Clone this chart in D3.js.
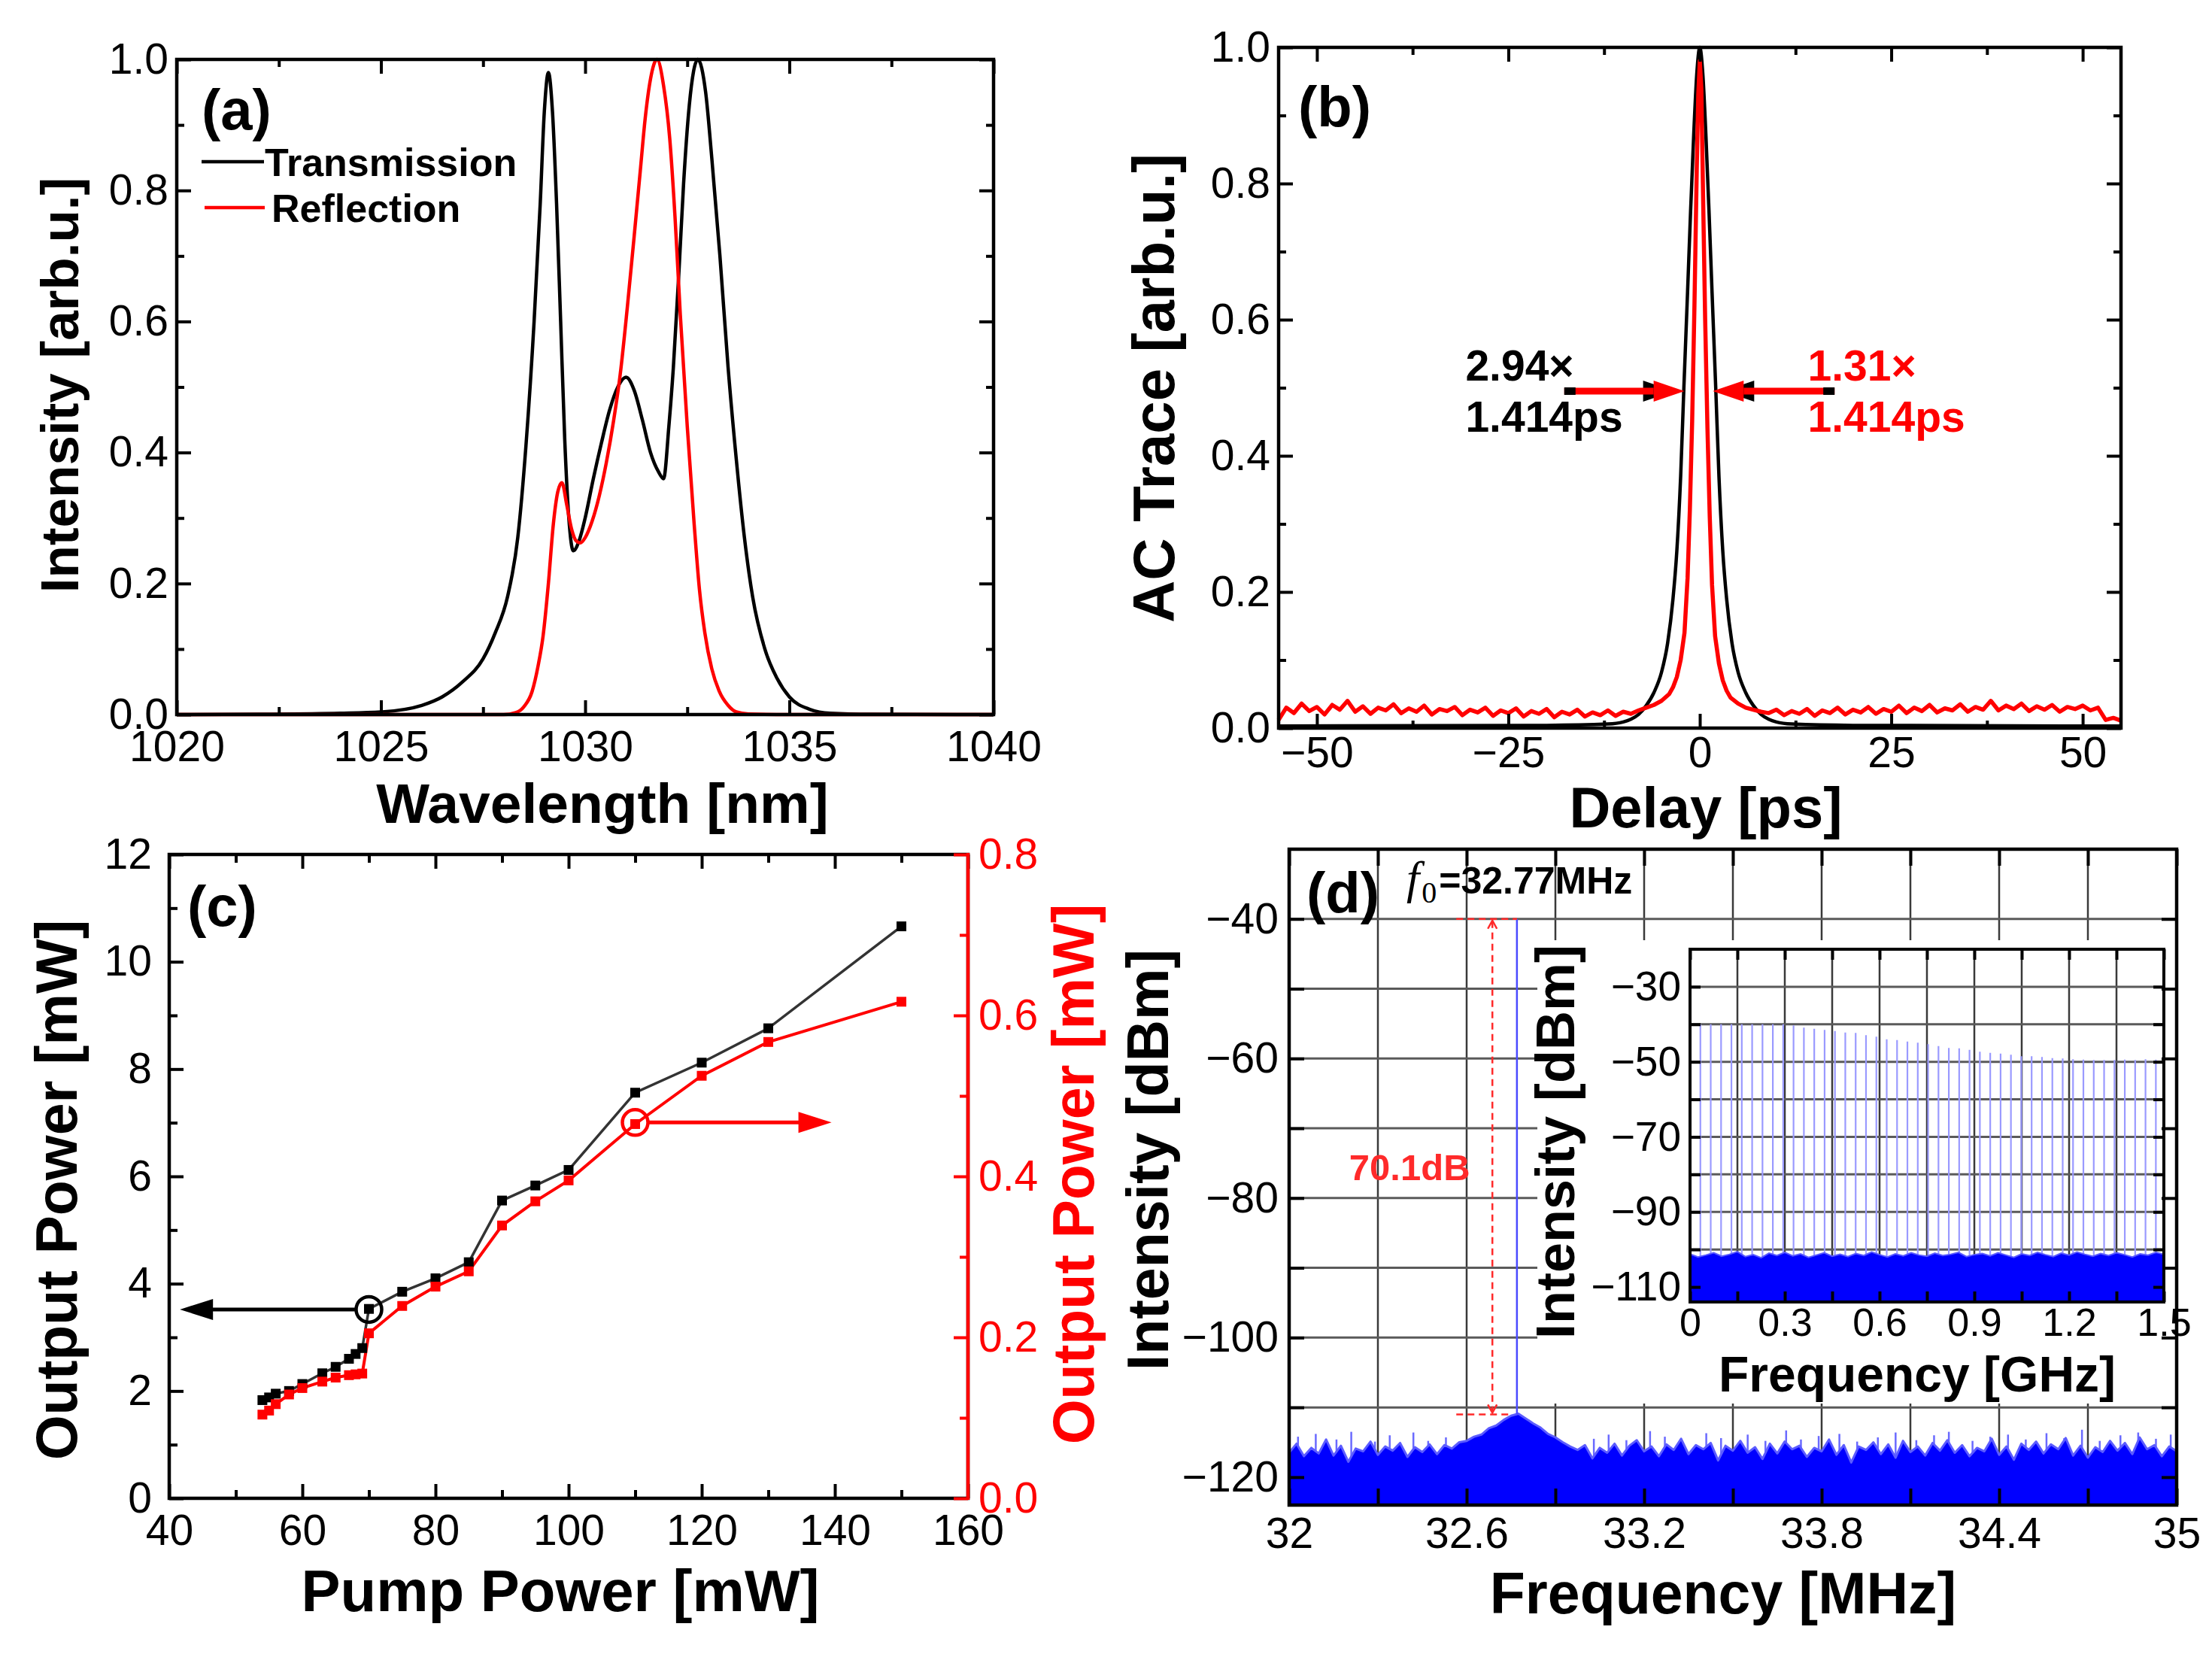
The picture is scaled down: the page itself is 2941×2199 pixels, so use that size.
<!DOCTYPE html>
<html>
<head>
<meta charset="utf-8">
<script src="https://cdn.jsdelivr.net/npm/d3@7"></script>
<style>
  html, body { margin: 0; background: #fff; }
</style>
</head>
<body>
<svg id="chart" width="2941" height="2199"></svg>
<script>
const FONT = '"Liberation Sans", Arial, Helvetica, sans-serif';
const SERIF = '"Liberation Serif", "Times New Roman", serif';

// ---- (a) transmission / reflection spectra
const wlTrans = [1020, 1022, 1024, 1025, 1026, 1026.5, 1027, 1027.5, 1027.8, 1028.1, 1028.35, 1028.55, 1028.75, 1028.9, 1029.0, 1029.1, 1029.2, 1029.3, 1029.4, 1029.5, 1029.6, 1029.71, 1029.85, 1030.0, 1030.2, 1030.4, 1030.6, 1030.8, 1031.0, 1031.2, 1031.4, 1031.6, 1031.8, 1031.92, 1032.05, 1032.16, 1032.3, 1032.41, 1032.55, 1032.76, 1032.95, 1033.1, 1033.3, 1033.5, 1033.7, 1033.9, 1034.1, 1034.4, 1034.7, 1035.0, 1035.5, 1036, 1037, 1040];
const intTrans = [0, 0.0005, 0.002, 0.004, 0.014, 0.027, 0.05, 0.085, 0.125, 0.18, 0.27, 0.41, 0.6, 0.78, 0.92, 0.98, 0.92, 0.78, 0.6, 0.42, 0.3, 0.25, 0.265, 0.3, 0.36, 0.415, 0.465, 0.5, 0.515, 0.495, 0.45, 0.4, 0.37, 0.36, 0.44, 0.53, 0.68, 0.81, 0.93, 1.0, 0.95, 0.85, 0.7, 0.53, 0.39, 0.27, 0.18, 0.1, 0.055, 0.027, 0.008, 0.002, 0.0005, 0];
const wlRefl = [1020, 1028, 1028.3, 1028.5, 1028.7, 1028.85, 1028.97, 1029.1, 1029.22, 1029.33, 1029.43, 1029.55, 1029.66, 1029.78, 1029.88, 1030.0, 1030.17, 1030.35, 1030.52, 1030.7, 1030.86, 1031.03, 1031.2, 1031.35, 1031.47, 1031.6, 1031.76, 1031.92, 1032.07, 1032.2, 1032.33, 1032.5, 1032.67, 1032.8, 1032.93, 1033.1, 1033.28, 1033.5, 1033.7, 1034, 1035, 1040];
const intRefl = [0, 0, 0.003, 0.012, 0.035, 0.075, 0.12, 0.2, 0.29, 0.34, 0.354, 0.32, 0.285, 0.265, 0.262, 0.27, 0.295, 0.335, 0.385, 0.45, 0.52, 0.62, 0.73, 0.83, 0.91, 0.97, 1.0, 0.96, 0.88, 0.76, 0.61, 0.44, 0.29, 0.19, 0.125, 0.07, 0.036, 0.014, 0.004, 0.001, 0, 0];

// ---- (b) autocorrelation traces
const delayBlack = [-55, -20, -12, -10, -9, -8, -7, -6, -5, -4.2, -3.5, -3, -2.5, -2.08, -1.6, -1.2, -0.8, -0.4, 0, 0.4, 0.8, 1.2, 1.6, 2.08, 2.5, 3, 3.5, 4.2, 5, 6, 7, 8, 9, 10, 12, 20, 55];
const acBlack = [0.003, 0.004, 0.006, 0.009, 0.013, 0.02, 0.033, 0.052, 0.082, 0.125, 0.19, 0.26, 0.37, 0.5, 0.64, 0.76, 0.87, 0.96, 1.0, 0.96, 0.87, 0.76, 0.64, 0.5, 0.37, 0.26, 0.19, 0.125, 0.082, 0.052, 0.033, 0.02, 0.013, 0.009, 0.006, 0.004, 0.003];
const delayRed = [-55, -54, -53, -52, -51, -50, -49, -48, -47, -46, -45, -44, -43, -42, -41, -40, -39, -38, -37, -36, -35, -34, -33, -32, -31, -30, -29, -28, -27, -26, -25, -24, -23, -22, -21, -20, -19, -18, -17, -16, -15, -14, -13, -12, -11, -10, -9,
  -8, -7, -6, -5, -4, -3.5, -3, -2.5, -2, -1.6, -1.3, -1, -0.7, -0.4, -0.2, 0, 0.2, 0.4, 0.7, 1, 1.3, 1.6, 2, 2.5, 3, 3.5, 4, 5, 6, 7, 8,
  9, 10, 11, 12, 13, 14, 15, 16, 17, 18, 19, 20, 21, 22, 23, 24, 25, 26, 27, 28, 29, 30, 31, 32, 33, 34, 35, 36, 37, 38, 39, 40, 41, 42, 43, 44, 45, 46, 47, 48, 49, 50, 51, 52, 53, 54, 55];
const acRed = [0.012, 0.03, 0.022, 0.036, 0.025, 0.031, 0.02, 0.034, 0.027, 0.04, 0.024, 0.032, 0.021, 0.03, 0.026, 0.035, 0.022, 0.029, 0.024, 0.033, 0.02, 0.028, 0.025, 0.031, 0.019, 0.027, 0.023, 0.03, 0.018, 0.026, 0.022, 0.029, 0.017, 0.025, 0.021, 0.028, 0.016, 0.024, 0.02, 0.027, 0.017, 0.023, 0.019, 0.026, 0.018, 0.024, 0.021,
  0.026, 0.03, 0.034, 0.04, 0.05, 0.06, 0.075, 0.1, 0.14, 0.22, 0.32, 0.45, 0.62, 0.82, 0.93, 0.98, 0.94, 0.8, 0.6, 0.44, 0.31, 0.21, 0.135, 0.095, 0.07, 0.055, 0.045, 0.036, 0.03, 0.027, 0.024,
  0.022, 0.027, 0.019, 0.025, 0.021, 0.028, 0.018, 0.026, 0.022, 0.03, 0.02, 0.027, 0.023, 0.031, 0.021, 0.028, 0.024, 0.033, 0.022, 0.03, 0.025, 0.034, 0.023, 0.029, 0.026, 0.035, 0.024, 0.031, 0.027, 0.04, 0.026, 0.033, 0.028, 0.036, 0.025, 0.032, 0.027, 0.034, 0.024, 0.031, 0.028, 0.033, 0.026, 0.03, 0.012, 0.015, 0.011];

// ---- (c) output power vs pump power
const pump = [54, 55, 56, 58, 60, 63, 65, 67, 68, 69, 70, 75, 80, 85, 90, 95, 100, 110, 120, 130, 150];
const powerBlack = [1.83, 1.88, 1.95, 2.0, 2.13, 2.33, 2.45, 2.6, 2.69, 2.8, 3.53, 3.85, 4.1, 4.4, 5.55, 5.83, 6.12, 7.56, 8.12, 8.76, 10.66];
const powerRed = [0.104, 0.109, 0.117, 0.129, 0.137, 0.145, 0.15, 0.153, 0.154, 0.155, 0.205, 0.239, 0.263, 0.282, 0.339, 0.369, 0.395, 0.465, 0.525, 0.567, 0.617];

// ---- (d) RF spectrum
const noiseFreq = d3.range(121).map(i => 32 + i * 0.025);
const noiseDbm = [-116.5, -115.2, -117.0, -115.8, -116.6, -114.6, -116.9, -115.5, -117.8, -115.9,
  -116.3, -114.9, -116.8, -115.6, -116.2, -115.1, -117.1, -115.7, -116.4, -115.3,
  -116.7, -115.4, -115.9, -115.0, -114.8, -114.2, -113.9, -113.0, -112.6, -111.8,
  -111.2, -110.9, -111.6, -112.3, -112.9, -113.8, -114.3, -115.0, -115.6, -116.1,
  -115.4, -117.3, -115.8, -116.5, -115.2, -116.9, -115.5, -114.7, -116.3, -115.6,
  -117.0, -115.3, -116.1, -114.5, -116.7, -115.4, -116.0, -115.1, -117.6, -115.5,
  -116.2, -114.8, -116.5, -115.7, -117.4, -115.2, -116.6, -114.9, -116.0, -115.5,
  -117.1, -115.8, -116.3, -114.6, -116.8, -115.4, -117.9, -115.6, -116.1, -115.0,
  -116.7, -115.3, -117.2, -114.8, -116.4, -115.6, -116.9, -115.1, -116.2, -114.7,
  -116.5, -115.4, -117.0, -115.8, -116.3, -114.5, -116.8, -115.6, -117.5, -115.2,
  -116.1, -114.9, -116.6, -115.3, -116.0, -114.4, -116.9, -115.5, -117.2, -115.7,
  -116.4, -114.8, -116.2, -115.1, -116.7, -114.3, -116.0, -115.4, -117.0, -115.6,
  -116.3];
// narrow noise spikes rising above the floor
const spikeFreq = [32.03, 32.09, 32.16, 32.21, 32.29, 32.34, 32.42, 32.47, 32.53, 33.03, 33.08, 33.14, 33.22, 33.27, 33.33, 33.41, 33.46, 33.55, 33.61, 33.68, 33.73, 33.79, 33.86, 33.92, 33.99, 34.05, 34.12, 34.18, 34.23, 34.31, 34.37, 34.43, 34.49, 34.56, 34.62, 34.68, 34.74, 34.81, 34.87, 34.93, 34.98];
const spikeDbm = [-114.2, -113.8, -114.6, -113.5, -114.9, -114.0, -113.6, -114.8, -114.3, -114.5, -113.9, -114.7, -113.4, -114.2, -115.0, -113.7, -114.4, -113.9, -114.8, -113.3, -114.6, -114.1, -113.8, -114.9, -114.3, -113.6, -114.7, -114.0, -113.5, -114.8, -114.2, -113.9, -114.6, -113.7, -114.4, -113.2, -114.8, -114.0, -113.6, -114.5, -113.9];
const f0MHz = 32.77;
const combPeakDbm = [-40, -40, -40, -40, -40, -40, -40, -40, -40, -40.3, -40.9, -41.2, -41.5, -41.8, -42.2, -42.3, -42.9, -43.3, -44.0, -44.2, -44.6, -44.9, -45.3, -45.8, -46.3, -46.4, -46.8, -47.3, -47.6, -47.8, -48.1, -48.5, -48.5, -48.7, -49.0, -49.1, -49.3, -49.4, -49.5, -49.5, -49.5, -49.4, -49.5, -49.3, -49.4];
const floorGHz = d3.range(61).map(i => i * 0.025);
const floorDbm = [-101.2, -102.0, -101.5, -100.9, -101.8, -101.3, -100.6, -101.9, -101.4, -102.2,
  -101.0, -101.6, -100.8, -101.7, -101.2, -102.1, -101.5, -100.9, -101.8, -101.3,
  -101.9, -101.1, -101.6, -100.7, -101.4, -102.0, -101.2, -101.7, -100.9, -101.5,
  -101.8, -101.0, -101.6, -101.3, -100.8, -101.9, -101.4, -101.1, -101.7, -100.9,
  -101.5, -102.1, -101.2, -101.6, -100.8, -101.4, -101.9, -101.0, -101.5, -100.7,
  -101.3, -101.8, -101.1, -101.6, -100.9, -101.4, -102.0, -101.2, -101.5, -100.8, -101.3];

const svg = d3.select("#chart");
svg.append("rect").attr("width", 2941).attr("height", 2199).attr("fill", "#fff");

// inward ticks, d3 axis with negative inner size
function addTicks(g, orient, scale, values, len, pos, color, fmt, pad, size) {
  const gen = { bottom: d3.axisBottom, top: d3.axisTop, left: d3.axisLeft, right: d3.axisRight }[orient];
  const ax = gen(scale).tickValues(values).tickSizeInner(-len).tickSizeOuter(0)
    .tickPadding(pad || 0).tickFormat(fmt || "");
  const t = (orient === "bottom" || orient === "top") ? `translate(0,${pos})` : `translate(${pos},0)`;
  const a = g.append("g").attr("transform", t).call(ax);
  a.select(".domain").remove();
  a.selectAll(".tick line").attr("stroke", color).attr("stroke-width", 4);
  a.selectAll(".tick text").attr("fill", color)
    .style("font-family", FONT).style("font-size", (size || 57) + "px");
  return a;
}

function boxAxes(g, x, y, o) {
  const [xl, xr] = x.range(), [yb, yt] = y.range();
  const c = "#000";
  addTicks(g, "bottom", x, o.xMajor, o.major, yb, c, o.xFmt, o.xPad);
  addTicks(g, "top", x, o.xMajor, o.major, yt, c);
  if (o.xMinor) {
    addTicks(g, "bottom", x, o.xMinor, o.minor, yb, c);
    addTicks(g, "top", x, o.xMinor, o.minor, yt, c);
  }
  addTicks(g, "left", y, o.yMajor, o.major, xl, c, o.yFmt, o.yPad);
  if (o.yMinor) addTicks(g, "left", y, o.yMinor, o.minor, xl, c);
  if (o.mirrorY !== false) {
    addTicks(g, "right", y, o.yMajor, o.major, xr, c);
    if (o.yMinor) addTicks(g, "right", y, o.yMinor, o.minor, xr, c);
  }
  g.append("rect").attr("x", xl).attr("y", yt).attr("width", xr - xl).attr("height", yb - yt)
    .attr("fill", "none").attr("stroke", c).attr("stroke-width", 4.5);
}

function text(g, str, x, y, size, o) {
  o = o || {};
  return g.append("text").attr("x", x).attr("y", y).text(str)
    .attr("fill", o.color || "#000").attr("text-anchor", o.anchor || "start")
    .style("font-family", FONT).style("font-size", size + "px")
    .style("font-weight", o.bold === false ? "normal" : "bold");
}

function yTitle(g, str, bx, cy, size, color) {
  g.append("text").attr("transform", `translate(${bx},${cy}) rotate(-90)`)
    .attr("text-anchor", "middle").attr("fill", color || "#000").text(str)
    .style("font-family", FONT).style("font-size", size + "px").style("font-weight", "bold");
}

const fmt1 = d3.format(".1f");
const fmtD = d3.format("d");

// ================= (a) =================
const gA = svg.append("g");
const xA = d3.scaleLinear().domain([1020, 1040]).range([235, 1321]);
const yA = d3.scaleLinear().domain([0, 1]).range([950, 79]);
const lineA = (xs, ys) => d3.line().x((d, i) => xA(xs[i])).y(d => yA(d)).curve(d3.curveMonotoneX)(ys);
gA.append("path").attr("d", lineA(wlTrans, intTrans))
  .attr("fill", "none").attr("stroke", "#000").attr("stroke-width", 4.5).attr("stroke-linejoin", "round");
gA.append("path").attr("d", lineA(wlRefl, intRefl))
  .attr("fill", "none").attr("stroke", "#ff0000").attr("stroke-width", 4.5).attr("stroke-linejoin", "round");
boxAxes(gA, xA, yA, {
  xMajor: [1020, 1025, 1030, 1035, 1040], xMinor: [1022.5, 1027.5, 1032.5, 1037.5],
  yMajor: [0, 0.2, 0.4, 0.6, 0.8, 1.0], yMinor: [0.1, 0.3, 0.5, 0.7, 0.9],
  major: 19, minor: 10, xFmt: fmtD, yFmt: fmt1, xPad: 22, yPad: 11
});
text(gA, "(a)", 268, 172, 76);
gA.append("line").attr("x1", 268).attr("x2", 351).attr("y1", 215).attr("y2", 215).attr("stroke", "#000").attr("stroke-width", 4.5);
text(gA, "Transmission", 352, 234, 52);
gA.append("line").attr("x1", 272).attr("x2", 352).attr("y1", 276).attr("y2", 276).attr("stroke", "#ff0000").attr("stroke-width", 4.5);
text(gA, "Reflection", 361, 295, 52);
text(gA, "Wavelength [nm]", 801, 1094, 75, { anchor: "middle" });
yTitle(gA, "Intensity [arb.u.]", 104, 512, 71);

// ================= (b) =================
const gB = svg.append("g");
const xB = d3.scaleLinear().domain([-55, 55]).range([1700, 2820]);
const yB = d3.scaleLinear().domain([0, 1]).range([968, 63]);
gB.append("path")
  .attr("d", d3.line().x((d, i) => xB(delayBlack[i])).y(d => yB(d)).curve(d3.curveMonotoneX)(acBlack))
  .attr("fill", "none").attr("stroke", "#000").attr("stroke-width", 4.5);
gB.append("path")
  .attr("d", d3.line().x((d, i) => xB(delayRed[i])).y(d => yB(d))(acRed))
  .attr("fill", "none").attr("stroke", "#ff0000").attr("stroke-width", 5.5).attr("stroke-linejoin", "round");
boxAxes(gB, xB, yB, {
  xMajor: [-50, -25, 0, 25, 50], xMinor: [-37.5, -12.5, 12.5, 37.5],
  yMajor: [0, 0.2, 0.4, 0.6, 0.8, 1.0], yMinor: [0.1, 0.3, 0.5, 0.7, 0.9],
  major: 19, minor: 10, xFmt: fmtD, yFmt: fmt1, xPad: 12, yPad: 11
});
// FWHM arrows
const arrY = yB(0.495);
function bArrow(from, tip, dir) {
  // black shadow head, red shaft, red head
  const hb = xB(tip) - dir * 41, sh = xB(tip) - dir * 14;
  gB.append("path").attr("d", `M${sh},${arrY} L${hb - dir * 14},${arrY - 14} L${hb - dir * 14},${arrY + 14} Z`).attr("fill", "#000");
  gB.append("line").attr("x1", xB(from)).attr("x2", hb).attr("y1", arrY).attr("y2", arrY)
    .attr("stroke", "#ff0000").attr("stroke-width", 9);
  gB.append("path").attr("d", `M${xB(tip)},${arrY} L${hb},${arrY - 14} L${hb},${arrY + 14} Z`).attr("fill", "#ff0000");
  gB.append("rect").attr("x", dir > 0 ? xB(from) : xB(from) - 15).attr("y", arrY - 5)
    .attr("width", 15).attr("height", 10).attr("fill", "#000");
}
bArrow(-17.7, -2.0, 1);
bArrow(17.6, 1.7, -1);
text(gB, "2.94×", xB(-30.6), 506, 57);
text(gB, "1.414ps", xB(-30.6), 574, 57);
text(gB, "1.31×", xB(14.1), 506, 57, { color: "#ff0000" });
text(gB, "1.414ps", xB(14.1), 574, 57, { color: "#ff0000" });
text(gB, "(b)", 1726, 168, 76);
text(gB, "Delay [ps]", 2268, 1100, 76, { anchor: "middle" });
yTitle(gB, "AC Trace [arb.u.]", 1561, 516, 78);

// ================= (c) =================
const gC = svg.append("g");
const xC = d3.scaleLinear().domain([40, 160]).range([225, 1287]);
const yCL = d3.scaleLinear().domain([0, 12]).range([1992, 1136]);
const yCR = d3.scaleLinear().domain([0, 0.8]).range([1992, 1136]);
gC.append("path").attr("d", d3.line().x((d, i) => xC(pump[i])).y(d => yCL(d))(powerBlack))
  .attr("fill", "none").attr("stroke", "#333").attr("stroke-width", 3.5);
gC.append("path").attr("d", d3.line().x((d, i) => xC(pump[i])).y(d => yCR(d))(powerRed))
  .attr("fill", "none").attr("stroke", "#ff0000").attr("stroke-width", 4);
gC.selectAll(".mb").data(powerBlack).enter().append("rect")
  .attr("x", (d, i) => xC(pump[i]) - 6.5).attr("y", d => yCL(d) - 6.5)
  .attr("width", 13).attr("height", 13).attr("fill", "#000");
gC.selectAll(".mr").data(powerRed).enter().append("rect")
  .attr("x", (d, i) => xC(pump[i]) - 6.5).attr("y", d => yCR(d) - 6.5)
  .attr("width", 13).attr("height", 13).attr("fill", "#ff0000");
boxAxes(gC, xC, yCL, {
  xMajor: [40, 60, 80, 100, 120, 140, 160], xMinor: [50, 70, 90, 110, 130, 150],
  yMajor: [0, 2, 4, 6, 8, 10, 12], yMinor: [1, 3, 5, 7, 9, 11],
  major: 19, minor: 11, xFmt: fmtD, yFmt: fmtD, xPad: 22, yPad: 23, mirrorY: false
});
addTicks(gC, "right", yCR, [0, 0.2, 0.4, 0.6, 0.8], 19, 1287, "#ff0000", fmt1, 14);
addTicks(gC, "right", yCR, [0.1, 0.3, 0.5, 0.7], 11, 1287, "#ff0000");
gC.append("line").attr("x1", 1287).attr("x2", 1287).attr("y1", 1136 - 2).attr("y2", 1992 + 2)
  .attr("stroke", "#ff0000").attr("stroke-width", 4.5);
// axis pointers
function cPointer(cx, cy, tipX, color) {
  const r = 17, dir = tipX < cx ? -1 : 1;
  gC.append("circle").attr("cx", cx).attr("cy", cy).attr("r", r)
    .attr("fill", "none").attr("stroke", color).attr("stroke-width", 4.5);
  gC.append("line").attr("x1", cx + dir * r).attr("x2", tipX - dir * 40).attr("y1", cy).attr("y2", cy)
    .attr("stroke", color).attr("stroke-width", 5);
  gC.append("path").attr("d", `M${tipX},${cy} L${tipX - dir * 44},${cy - 14} L${tipX - dir * 44},${cy + 14} Z`)
    .attr("fill", color);
}
cPointer(xC(70), yCL(3.52), xC(41.6), "#000");
cPointer(xC(110), yCR(0.467), xC(139.5), "#ff0000");
text(gC, "(c)", 249, 1231, 76);
text(gC, "Pump Power [mW]", 745, 2142, 78, { anchor: "middle" });
yTitle(gC, "Output Power [mW]", 102, 1582, 77);
yTitle(gC, "Output Power [mW]", 1454, 1561, 77, "#ff0000");

// ================= (d) =================
const gD = svg.append("g");
const xD = d3.scaleLinear().domain([32, 35]).range([1714, 2894]);
const yD = d3.scaleLinear().domain([-124, -30]).range([2001, 1129]);
const dGridX = [32.3, 32.6, 32.9, 33.2, 33.5, 33.8, 34.1, 34.4, 34.7];
const dGridY = [-120, -110, -100, -90, -80, -70, -60, -50, -40];
gD.selectAll(".gx").data(dGridX).enter().append("line")
  .attr("x1", d => xD(d)).attr("x2", d => xD(d)).attr("y1", 1129).attr("y2", 2001)
  .attr("stroke", "#3a3a3a").attr("stroke-width", 2.5);
gD.selectAll(".gy").data(dGridY).enter().append("line")
  .attr("x1", 1714).attr("x2", 2894).attr("y1", d => yD(d)).attr("y2", d => yD(d))
  .attr("stroke", "#5a5a5a").attr("stroke-width", 3);
gD.selectAll(".spike").data(spikeDbm).enter().append("line")
  .attr("x1", (d, i) => xD(spikeFreq[i])).attr("x2", (d, i) => xD(spikeFreq[i]))
  .attr("y1", yD(-118)).attr("y2", d => yD(d))
  .attr("stroke", "#6a6aff").attr("stroke-width", 2.5);
gD.append("path")
  .attr("d", d3.area().x((d, i) => xD(noiseFreq[i])).y0(yD(-124)).y1(d => yD(d))(noiseDbm))
  .attr("fill", "#0000ff");
gD.append("path")
  .attr("d", d3.line().x((d, i) => xD(noiseFreq[i])).y(d => yD(d))(noiseDbm))
  .attr("fill", "none").attr("stroke", "#5c5cff").attr("stroke-width", 3).attr("stroke-linejoin", "round");
// fundamental line and SNR marker
gD.append("line").attr("x1", xD(f0MHz)).attr("x2", xD(f0MHz)).attr("y1", yD(-111)).attr("y2", yD(-40))
  .attr("stroke", "#4a4aff").attr("stroke-width", 2.5);
const snrX = 32.687, snrL = 32.565;
const dash = { stroke: "#ff2a2a", "stroke-width": 2.5, "stroke-dasharray": "9,6" };
function dashed(x1, y1, x2, y2) {
  const l = gD.append("line").attr("x1", x1).attr("y1", y1).attr("x2", x2).attr("y2", y2);
  Object.entries(dash).forEach(([k, v]) => l.attr(k, v));
}
dashed(xD(snrL), yD(-40), xD(f0MHz), yD(-40));
dashed(xD(snrL), yD(-111), xD(32.75), yD(-111));
dashed(xD(snrX), yD(-40) + 3, xD(snrX), yD(-111) - 3);
gD.append("path").attr("d",
  `M${xD(snrX) - 6},${yD(-40) + 13} L${xD(snrX)},${yD(-40) + 2} L${xD(snrX) + 6},${yD(-40) + 13}` +
  `M${xD(snrX) - 6},${yD(-111) - 13} L${xD(snrX)},${yD(-111) - 2} L${xD(snrX) + 6},${yD(-111) - 13}`)
  .attr("fill", "none").attr("stroke", "#ff2a2a").attr("stroke-width", 2.5);
text(gD, "70.1dB", xD(32.203), yD(-77.4), 49, { color: "#ff2a2a" });
// inset background
gD.append("rect").attr("x", 2044).attr("y", 1250).attr("width", 848).attr("height", 616).attr("fill", "#fff");
// main ticks and frame
const dX = [32, 32.3, 32.6, 32.9, 33.2, 33.5, 33.8, 34.1, 34.4, 34.7, 35];
const dXFmt = (v, i) => (i % 2 === 0 ? String(+v.toFixed(1)) : "");
const dY = [-120, -110, -100, -90, -80, -70, -60, -50, -40];
const dYFmt = v => (v % 20 === 0 ? fmtD(v) : "");
addTicks(gD, "bottom", xD, dX, 22, 2001, "#000", dXFmt, 17);
addTicks(gD, "top", xD, dX, 22, 1129, "#000");
addTicks(gD, "left", yD, dY, 20, 1714, "#000", dYFmt, 14);
addTicks(gD, "right", yD, dY, 20, 2894, "#000");
gD.append("rect").attr("x", 1714).attr("y", 1129).attr("width", 1180).attr("height", 872)
  .attr("fill", "none").attr("stroke", "#000").attr("stroke-width", 4.5);
text(gD, "(d)", 1737, 1213, 76);
const f0Label = gD.append("text").attr("x", 1870).attr("y", 1188).attr("fill", "#000");
f0Label.append("tspan").text("f").style("font-family", SERIF).style("font-style", "italic").style("font-size", "62px");
f0Label.append("tspan").text("0").attr("dx", 3).attr("dy", 12).style("font-family", SERIF).style("font-size", "40px");
f0Label.append("tspan").text("=32.77MHz").attr("dx", 3).attr("dy", -12)
  .style("font-family", FONT).style("font-weight", "bold").style("font-size", "50px");
text(gD, "Frequency [MHz]", 2291, 2145, 77, { anchor: "middle" });
yTitle(gD, "Intensity [dBm]", 1553, 1542, 77);

// ---- inset: wide-span RF spectrum
const gI = svg.append("g");
const xI = d3.scaleLinear().domain([0, 1.5]).range([2247, 2877]);
const yI = d3.scaleLinear().domain([-114, -20]).range([1731, 1262]);
const iGridX = [0.15, 0.3, 0.45, 0.6, 0.75, 0.9, 1.05, 1.2, 1.35];
const iGridY = [-110, -100, -90, -80, -70, -60, -50, -40, -30];
gI.selectAll(".gx").data(iGridX).enter().append("line")
  .attr("x1", d => xI(d)).attr("x2", d => xI(d)).attr("y1", 1262).attr("y2", 1731)
  .attr("stroke", "#3a3a3a").attr("stroke-width", 2.5);
gI.selectAll(".gy").data(iGridY).enter().append("line")
  .attr("x1", 2247).attr("x2", 2877).attr("y1", d => yI(d)).attr("y2", d => yI(d))
  .attr("stroke", "#5a5a5a").attr("stroke-width", 3);
gI.selectAll(".comb").data(combPeakDbm).enter().append("line")
  .attr("x1", (d, i) => xI((i + 1) * f0MHz / 1000)).attr("x2", (d, i) => xI((i + 1) * f0MHz / 1000))
  .attr("y1", yI(-114)).attr("y2", d => yI(d))
  .attr("stroke", "#9a9aff").attr("stroke-width", 2.2);
gI.append("path")
  .attr("d", d3.area().x((d, i) => xI(floorGHz[i])).y0(yI(-114)).y1(d => yI(d))(floorDbm))
  .attr("fill", "#0000ff");
gI.append("path")
  .attr("d", d3.line().x((d, i) => xI(floorGHz[i])).y(d => yI(d))(floorDbm))
  .attr("fill", "none").attr("stroke", "#5a5aff").attr("stroke-width", 2);
const iX = [0, 0.15, 0.3, 0.45, 0.6, 0.75, 0.9, 1.05, 1.2, 1.35, 1.5];
const iXFmt = (v, i) => (i % 2 === 0 ? (v === 0 ? "0" : fmt1(v)) : "");
const iY = [-110, -100, -90, -80, -70, -60, -50, -40, -30];
const iYFmt = v => ((v + 30) % 20 === 0 ? fmtD(v) : "");
addTicks(gI, "bottom", xI, iX, 14, 1731, "#000", iXFmt, 8, 52);
addTicks(gI, "top", xI, iX, 14, 1262, "#000");
addTicks(gI, "left", yI, iY, 14, 2247, "#000", iYFmt, 12, 55);
addTicks(gI, "right", yI, iY, 14, 2877, "#000");
gI.append("rect").attr("x", 2247).attr("y", 1262).attr("width", 630).attr("height", 469)
  .attr("fill", "none").attr("stroke", "#000").attr("stroke-width", 4);
text(gI, "Frequency [GHz]", 2549, 1850, 66, { anchor: "middle" });
yTitle(gI, "Intensity [dBm]", 2093, 1518, 72);
</script>
</body>
</html>
